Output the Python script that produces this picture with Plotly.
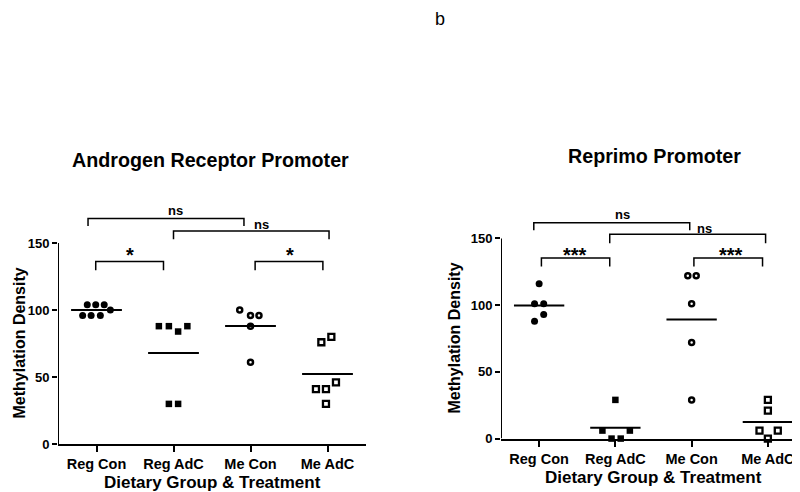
import plotly.graph_objects as go
import numpy as np

categories = ["Reg Con", "Reg AdC", "Me Con", "Me AdC"]
y_ticks = [0, 50, 100, 150]

# Androgen Receptor Promoter (left panel)
ar_reg_con = [104, 104, 104, 96, 96, 96, 100]
ar_reg_con_jit = [-0.12, -0.01, 0.10, -0.18, -0.07, 0.05, 0.18]
ar_reg_adc = [88, 88, 84, 88, 30, 30]
ar_reg_adc_jit = [-0.19, -0.06, 0.06, 0.18, -0.06, 0.06]
ar_me_con = [100, 96, 96, 88, 61]
ar_me_con_jit = [-0.14, 0.0, 0.11, 0.0, 0.0]
ar_me_adc = [76, 80, 46, 41, 41, 30]
ar_me_adc_jit = [-0.08, 0.05, 0.11, -0.15, -0.02, -0.02]

# Reprimo Promoter (right panel)
rp_reg_con = [116, 101, 101, 93, 88]
rp_reg_con_jit = [0.0, -0.06, 0.06, 0.06, -0.06]
rp_reg_adc = [29, 6, 6, 0, 0]
rp_reg_adc_jit = [0.0, -0.17, 0.19, -0.05, 0.07]
rp_me_con = [122, 122, 101, 72, 29]
rp_me_con_jit = [-0.05, 0.06, 0.0, 0.0, 0.0]
rp_me_adc = [29, 21, 6, 6, 0]
rp_me_adc_jit = [0.0, 0.0, -0.11, 0.13, 0.0]

ar_groups = [(ar_reg_con, ar_reg_con_jit), (ar_reg_adc, ar_reg_adc_jit),
             (ar_me_con, ar_me_con_jit), (ar_me_adc, ar_me_adc_jit)]
rp_groups = [(rp_reg_con, rp_reg_con_jit), (rp_reg_adc, rp_reg_adc_jit),
             (rp_me_con, rp_me_con_jit), (rp_me_adc, rp_me_adc_jit)]

# significance brackets: (x0, x1, y_top, y_leg, label, label_x, label_y)
ar_brackets = [
    (-0.11, 1.915, 168.4, 162.7, "ns", 1.03, 174.4),
    (1.0, 3.02, 159.0, 152.9, "ns", 2.14, 164.0),
    (-0.01, 0.87, 136.3, 129.7, "*", 0.43, 141.2),
    (2.06, 2.94, 136.3, 129.7, "*", 2.51, 141.2),
]
rp_brackets = [
    (-0.07, 1.975, 161.8, 156.1, "ns", 1.087, 168.0),
    (0.926, 2.97, 153.2, 146.5, "ns", 2.17, 157.4),
    (0.03, 0.926, 135.3, 129.0, "***", 0.47, 137.4),
    (2.03, 2.93, 135.3, 129.0, "***", 2.51, 137.4),
]

markers = [
    dict(symbol="circle", size=7, color="black"),
    dict(symbol="square", size=6.5, color="black"),
    dict(symbol="circle-open", size=5, color="black", line=dict(width=2.5, color="black")),
    dict(symbol="square-open", size=6, color="black", line=dict(width=2.3, color="black")),
]

FONT = "Liberation Sans, Arial, sans-serif"
fig = go.Figure()
shapes = []
annotations = []

def add_panel(groups, brackets, xa, ya):
    xref = "x" if xa == "x" else "x2"
    yref = "y" if ya == "y" else "y2"
    for i, (vals, jit) in enumerate(groups):
        fig.add_trace(go.Scatter(
            x=[i + j for j in jit], y=vals, mode="markers",
            marker=markers[i], cliponaxis=False, showlegend=False,
            xaxis=xa, yaxis=ya, hoverinfo="skip"))
        m = float(np.mean(vals))
        fig.add_trace(go.Scatter(
            x=[i - 0.33, i + 0.33], y=[m, m], mode="lines",
            line=dict(color="black", width=2), showlegend=False,
            xaxis=xa, yaxis=ya, hoverinfo="skip"))
    for (x0, x1, yt, yl, lab, lx, ly) in brackets:
        shapes.append(dict(type="path", xref=xref, yref=yref,
                           path=f"M {x0},{yl} L {x0},{yt} L {x1},{yt} L {x1},{yl}",
                           line=dict(color="black", width=1.5)))
        annotations.append(dict(x=lx, y=ly, xref=xref, yref=yref, text=lab,
                                showarrow=False, yanchor="middle",
                                font=dict(family=FONT, size=20 if lab != "ns" else 13,
                                          color="black", weight="bold")))
    # y axis line from 0 to 150
    shapes.append(dict(type="line", xref=xref, yref=yref, x0=-0.5, x1=-0.5,
                       y0=0, y1=150, line=dict(color="black", width=2)))

add_panel(ar_groups, ar_brackets, "x", "y")
add_panel(rp_groups, rp_brackets, "x2", "y2")

axis_x = dict(range=[-0.5, 3.5], tickvals=[0, 1, 2, 3], ticktext=categories,
              showgrid=False, zeroline=False, showline=True, linecolor="black",
              linewidth=2, ticks="outside", ticklen=6, tickwidth=2, tickcolor="black",
              tickfont=dict(family=FONT, size=14.5, color="black", weight="bold"))
axis_y = dict(range=[0, 180], tickvals=y_ticks, showgrid=False, zeroline=False,
              showline=False, ticks="outside", ticklen=5, tickwidth=2, tickcolor="black",
              tickfont=dict(family=FONT, size=13, color="black", weight="bold"))

fig.update_layout(
    width=800, height=492,
    margin=dict(l=0, r=0, t=0, b=0),
    paper_bgcolor="white", plot_bgcolor="white",
    xaxis=dict(axis_x, domain=[50/800, 358/800], anchor="y"),
    yaxis=dict(axis_y, domain=[(492-443.3)/492, (492-198.1)/492], anchor="x"),
    xaxis2=dict(axis_x, domain=[493/800, 798/800], anchor="y2"),
    yaxis2=dict(axis_y, domain=[(492-437.7)/492, (492-193.6)/492], anchor="x2"),
    shapes=shapes,
)

def pa(text, x, y, size, bold=True, angle=0):
    annotations.append(dict(text=text, x=x/800, y=1 - y/492, xref="paper", yref="paper",
                            showarrow=False, xanchor="center", yanchor="middle",
                            textangle=angle,
                            font=dict(family=FONT, size=size, color="black",
                                      weight="bold" if bold else "normal")))

pa("b", 432, 11, 18, bold=False)
pa("Androgen Receptor Promoter", 202, 155, 19.7)
pa("Reprimo Promoter", 646, 150, 19.7)
pa("Dietary Group & Treatment", 204, 482, 17)
pa("Dietary Group & Treatment", 645, 477, 17)
pa("Methylation Density", 11, 341, 16, angle=-90)
pa("Methylation Density", 447, 336, 16, angle=-90)

fig.update_layout(annotations=annotations)
fig.write_html("out.html")
